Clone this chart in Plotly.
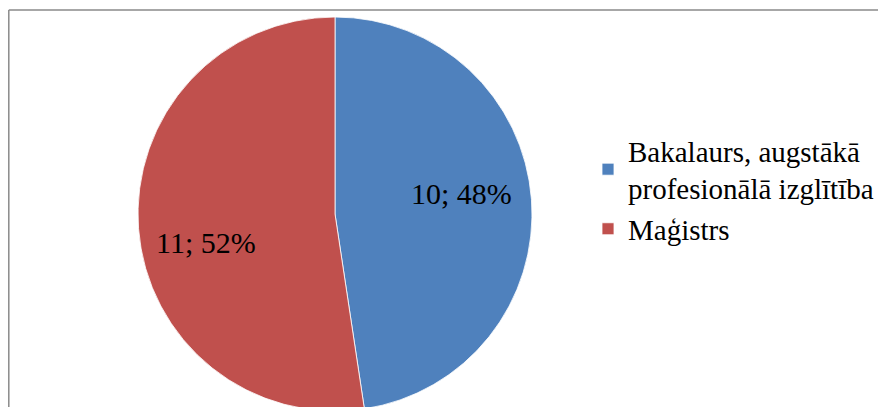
import plotly.graph_objects as go

labels = ["Bakalaurs, augstākā<br>profesionālā izglītība", "Maģistrs"]
values = [10, 11]
colors = ["#4F81BD", "#C0504D"]

W, H = 886, 407
OFF = 8  # browser body margin offset

def px(x):
    return (x - OFF) / W

def py(y):
    return 1 - (y - OFF) / H

total = sum(values)
label_texts = [f"{v}; {round(100 * v / total)}%" for v in values]
label_pos = [(461, 193), (206, 242)]

fig = go.Figure(go.Pie(
    labels=labels,
    values=values,
    sort=False,
    direction="clockwise",
    rotation=0,
    marker=dict(colors=colors, line=dict(color="white", width=0.8)),
    textinfo="none",
    domain=dict(x=[px(138), px(532)], y=[py(411), py(17)]),
    hoverinfo="skip",
))

annotations = [
    dict(x=px(x), y=py(y), xref="paper", yref="paper", text=t,
         showarrow=False, xanchor="center", yanchor="middle",
         font=dict(family="Liberation Serif", size=30, color="black"))
    for t, (x, y) in zip(label_texts, label_pos)
]

fig.update_layout(
    width=W, height=H,
    margin=dict(l=0, r=0, t=0, b=0),
    paper_bgcolor="white",
    showlegend=True,
    legend=dict(
        x=px(588), y=py(125), xanchor="left", yanchor="top",
        font=dict(family="Liberation Serif", size=29, color="black"),
        itemwidth=30,
        tracegroupgap=0,
    ),
    annotations=annotations,
    shapes=[
        dict(type="line", xref="paper", yref="paper",
             x0=0.8 / W, x1=1.05, y0=py(10), y1=py(10),
             line=dict(color="#8a8a8a", width=1.5)),
        dict(type="line", xref="paper", yref="paper",
             x0=0.8 / W, x1=0.8 / W, y0=py(10), y1=-0.05,
             line=dict(color="#8a8a8a", width=1.5)),
    ],
)

fig.write_html("out.html")
